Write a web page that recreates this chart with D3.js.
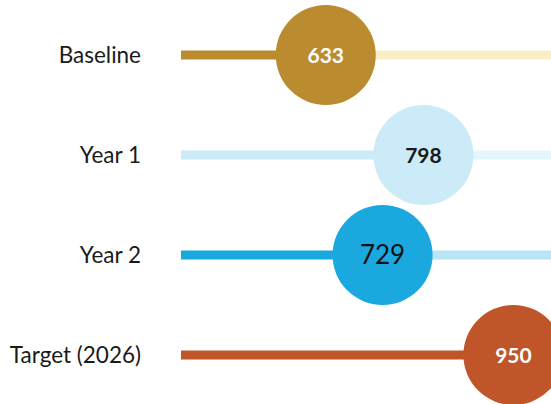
<!DOCTYPE html>
<html>
<head>
<meta charset="utf-8">
<script src="https://cdn.jsdelivr.net/npm/d3@7"></script>
<style>
	body { margin: 0; background: #fff; }
	svg { display: block; }
	text { font-family: Lato, "Noto Sans", sans-serif; }
</style>
</head>
<body>
<div id="chart"></div>
<script>
// DATA
var categories = ['Baseline', 'Year 1', 'Year 2', 'Target (2026)'];
var values = [633, 798, 729, 950];

// STYLE (per row)
var dotColors = ['#BA8B2F', '#CBEBF9', '#1AA8DF', '#C0552A'];
var trackColors = ['#FCEDC4', '#E5F5FD', '#BAE5F7', '#C0552A'];
var numColors = ['#ffffff', '#1a1a1a', '#111111', '#ffffff'];
var numSizes = [21, 21, 26, 21];
var numWeights = ['bold', 'bold', 'normal', 'bold'];

var rows = categories.map(function(c, i) {
	return { name: c, value: values[i], i: i };
});

// BOUNDS
var width = 551,
	height = 404,
	lineStart = 181,
	radius = 50;

// SCALE
var xScale = d3.scaleLinear().domain([500, 1000]).range([247, 543]);
var yScale = d3.scalePoint().domain(categories).range([55, 355]);

var svg = d3.select('#chart')
	.append('svg')
	.attr('width', width)
	.attr('height', height);

var row = svg.selectAll('g.row')
	.data(rows)
	.enter()
	.append('g')
	.attr('class', 'row')
	.attr('transform', function(d) { return 'translate(0,' + yScale(d.name) + ')'; });

// light track to the right edge
row.append('line')
	.attr('x1', function(d) { return xScale(d.value); })
	.attr('x2', width)
	.attr('stroke', function(d) { return trackColors[d.i]; })
	.attr('stroke-width', 9);

// filled part up to the value
row.append('line')
	.attr('x1', lineStart)
	.attr('x2', function(d) { return xScale(d.value); })
	.attr('stroke', function(d) { return dotColors[d.i]; })
	.attr('stroke-width', 9);

row.append('circle')
	.attr('cx', function(d) { return xScale(d.value); })
	.attr('r', radius)
	.attr('fill', function(d) { return dotColors[d.i]; });

row.append('text')
	.attr('x', function(d) { return xScale(d.value); })
	.attr('dy', '0.36em')
	.attr('text-anchor', 'middle')
	.attr('fill', function(d) { return numColors[d.i]; })
	.style('font-size', function(d) { return numSizes[d.i] + 'px'; })
	.style('font-weight', function(d) { return numWeights[d.i]; })
	.text(function(d) { return d.value; });

// category labels
row.append('text')
	.attr('x', 141)
	.attr('dy', '0.36em')
	.attr('text-anchor', 'end')
	.attr('fill', '#1a1a1a')
	.style('font-size', '22.5px')
	.text(function(d) { return d.name; });
</script>
</body>
</html>
